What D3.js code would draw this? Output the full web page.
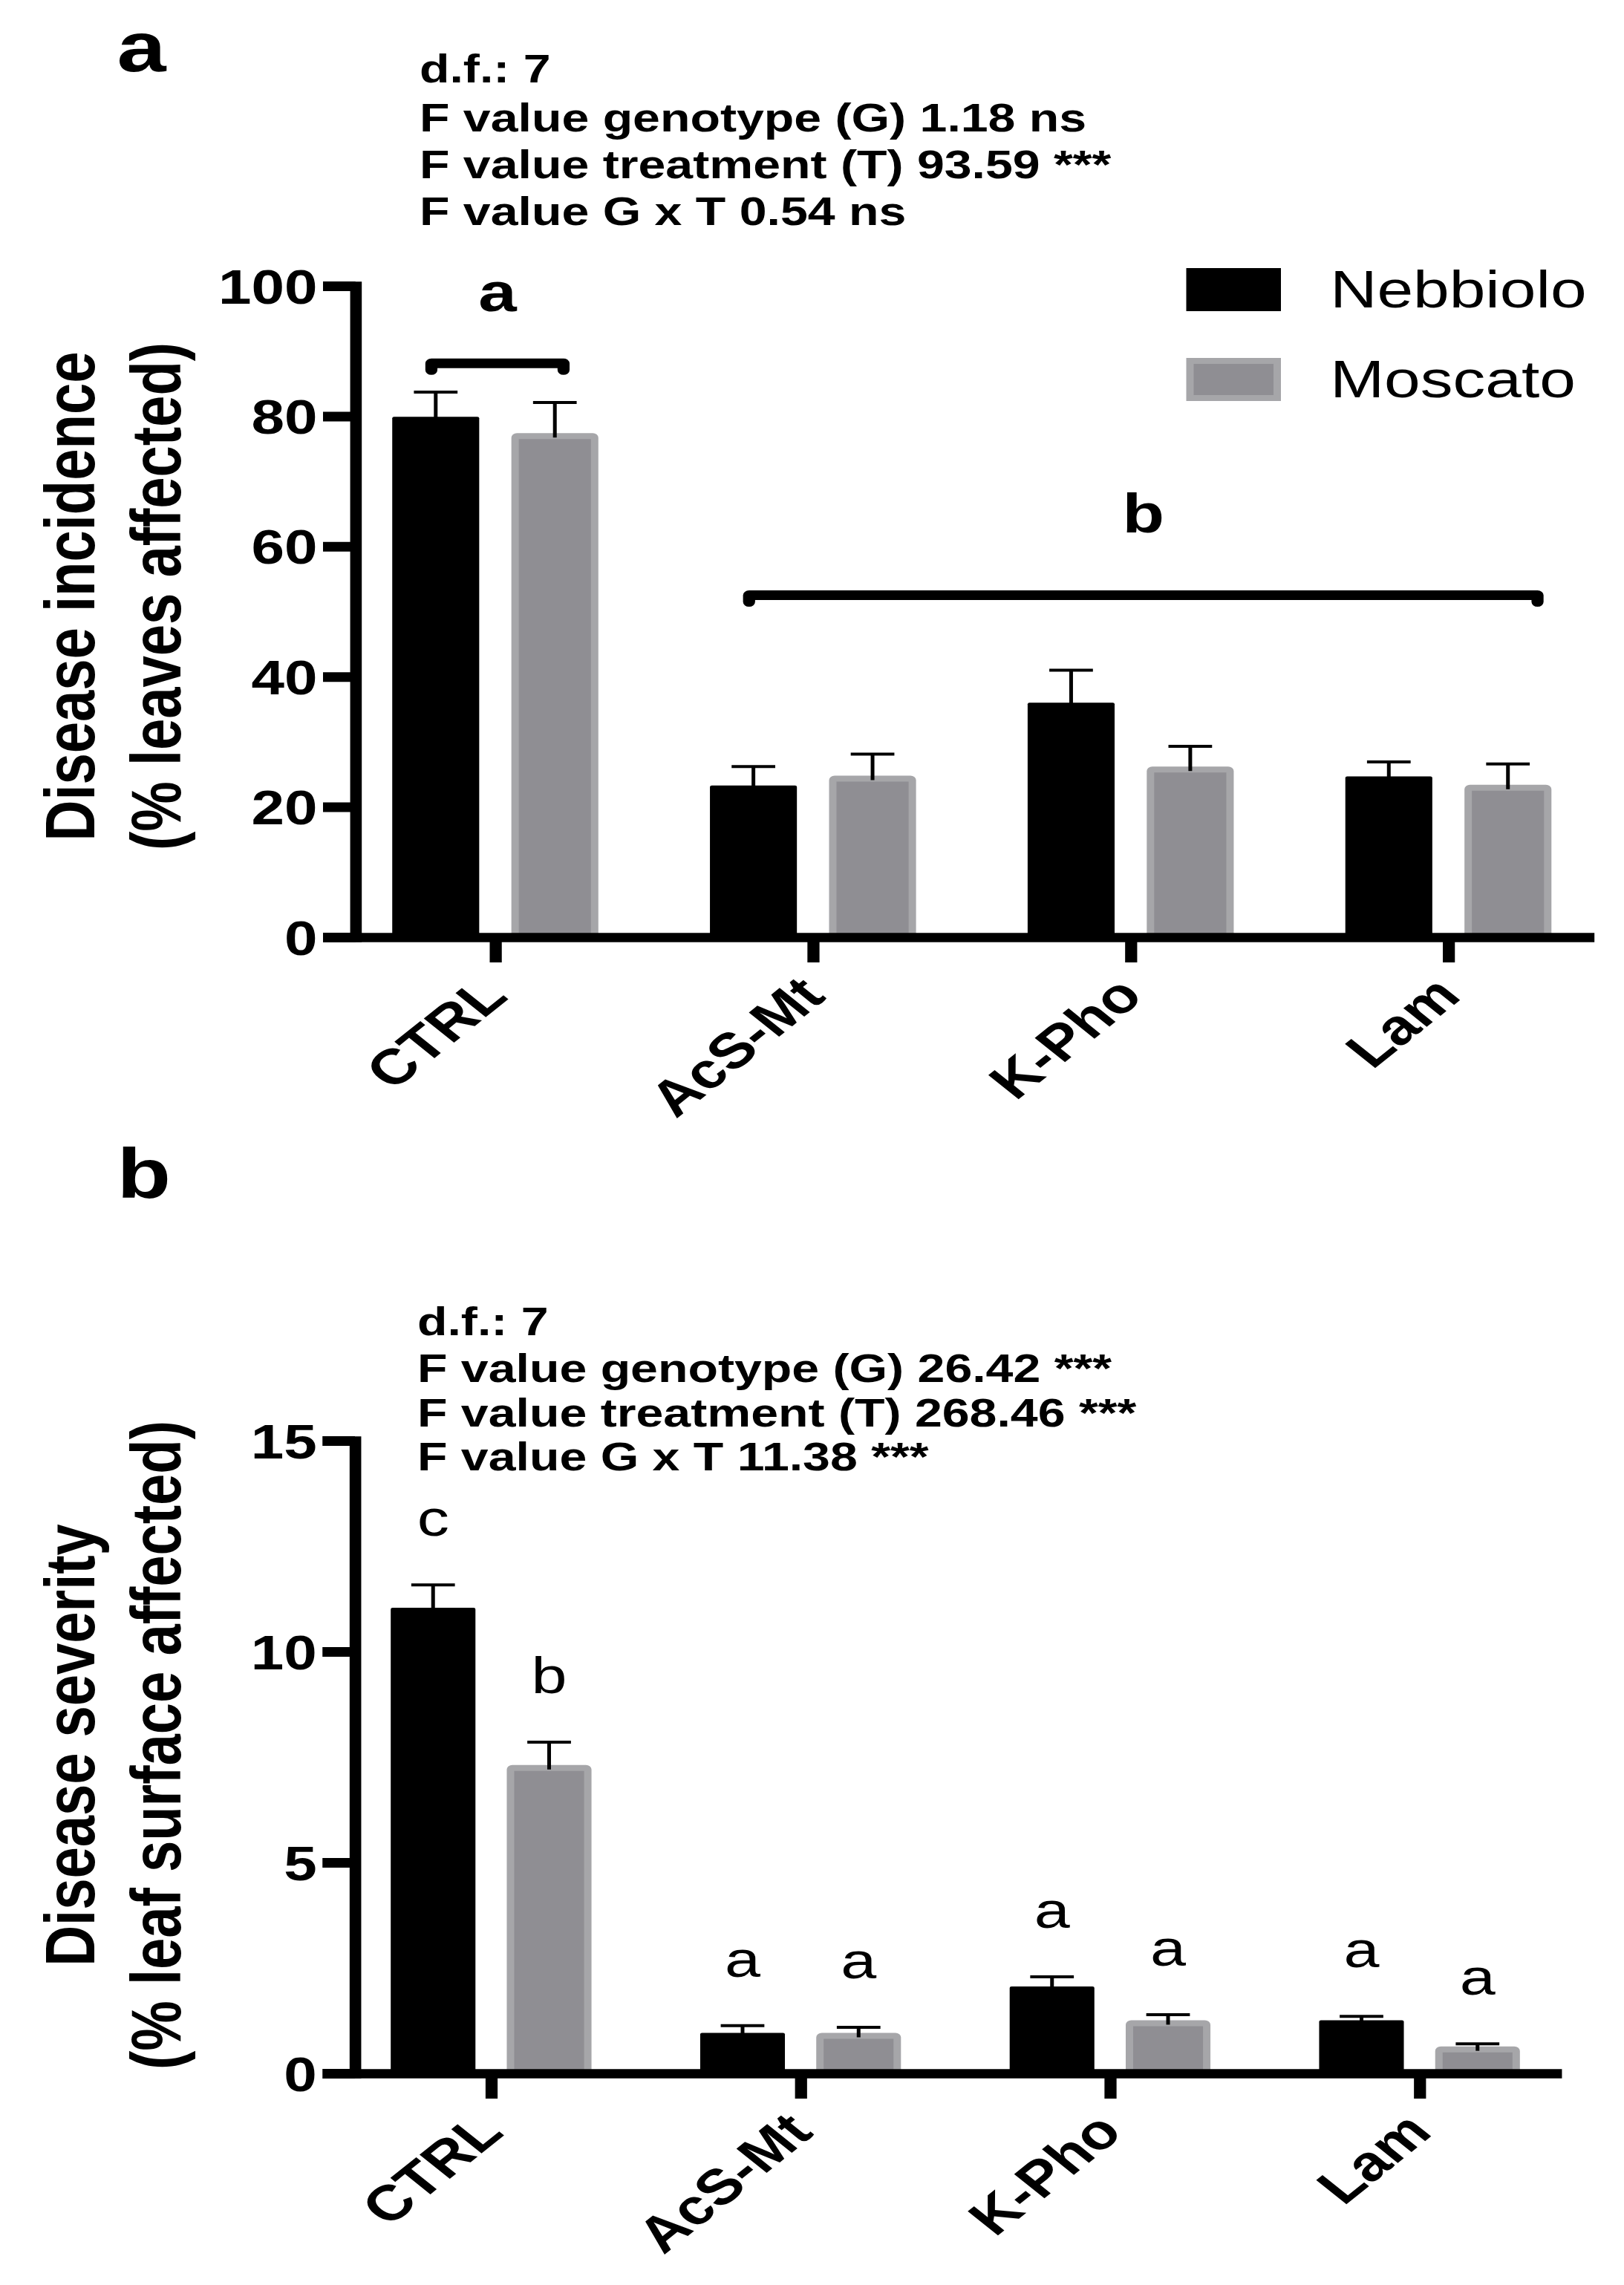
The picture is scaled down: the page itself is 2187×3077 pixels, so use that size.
<!DOCTYPE html>
<html>
<head>
<meta charset="utf-8">
<script src="https://cdn.jsdelivr.net/npm/d3@7"></script>
<style>
  html, body { margin: 0; padding: 0; background: #ffffff; }
  svg { display: block; }
</style>
</head>
<body>
<div id="chart"></div>
<script>
// ---------------- data ----------------
const categories = ["CTRL", "AcS-Mt", "K-Pho", "Lam"];
const series = ["Nebbiolo", "Moscato"];

// Panel a: disease incidence (% leaves affected), mean and SE
const incidenceNebbiolo   = [79.9, 23.3, 36.0, 24.7];
const incidenceNebbioloSE = [3.8, 2.9, 5.0, 2.2];
const incidenceMoscato    = [77.4, 24.8, 26.2, 23.4];
const incidenceMoscatoSE  = [4.7, 3.3, 3.1, 3.2];
const incidenceTicks = [0, 20, 40, 60, 80, 100];
const incidenceStats = [
  "d.f.: 7",
  "F value genotype (G) 1.18 ns",
  "F value treatment (T) 93.59 ***",
  "F value G x T 0.54 ns"
];
// grouping letters for panel a (bracket level in data units)
const incidenceGroups = [
  { label: "a", from: ["CTRL", "Nebbiolo"], to: ["CTRL", "Moscato"], level: 88.1 },
  { label: "b", from: ["AcS-Mt", "Nebbiolo"], to: ["Lam", "Moscato"], level: 52.5 }
];

// Panel b: disease severity (% leaf surface affected), mean and SE
const severityNebbiolo   = [11.04, 0.96, 2.06, 1.26];
const severityNebbioloSE = [0.54, 0.17, 0.23, 0.09];
const severityMoscato    = [7.31, 0.96, 1.26, 0.64];
const severityMoscatoSE  = [0.54, 0.13, 0.13, 0.06];
const severityLettersNebbiolo = ["c", "a", "a", "a"];
const severityLettersMoscato  = ["b", "a", "a", "a"];
const severityTicks = [0, 5, 10, 15];
const severityStats = [
  "d.f.: 7",
  "F value genotype (G) 26.42 ***",
  "F value treatment (T) 268.46 ***",
  "F value G x T 11.38 ***"
];

// ---------------- layout / style ----------------
const FULL_W = 2187, FULL_H = 3077;
const STRETCH = 1.25;               // the figure is horizontally stretched
const W = FULL_W / STRETCH;
const FONT = "'Liberation Sans', Arial, Helvetica, sans-serif";
const COLORS = { Nebbiolo: "#000000", Moscato: "#8f8e93" };
const MOSCATO_BORDER = "#a6a6a9";

const svg = d3.select("#chart").append("svg")
  .attr("width", FULL_W).attr("height", FULL_H)
  .attr("viewBox", `0 0 ${W} ${FULL_H}`)
  .attr("preserveAspectRatio", "none");

svg.append("rect").attr("width", W).attr("height", FULL_H).attr("fill", "#fff");

function drawPanel(cfg) {
  const g = svg.append("g");
  const x = d3.scalePoint().domain(categories).range([cfg.axisX, cfg.xEnd]).padding(0.44);
  const step = x.step();
  const xs = d3.scaleBand().domain(series)
    .range([-0.375 * step, 0.375 * step]).paddingInner(0.27).paddingOuter(0.135);
  const bw = xs.bandwidth();
  const y = d3.scaleLinear().domain([0, cfg.ticks[cfg.ticks.length - 1]]).range([cfg.y0, cfg.yTop]);

  const rows = [];
  categories.forEach((c, i) => {
    series.forEach(s => {
      rows.push({
        cat: c, ser: s,
        v: cfg.values[s][i], se: cfg.errors[s][i],
        letter: cfg.letters ? cfg.letters[s][i] : null
      });
    });
  });
  const cx = d => x(d.cat) + xs(d.ser) + bw / 2;

  // bars
  const sw = 8;
  g.selectAll("rect.bar").data(rows).join("rect")
    .attr("class", "bar")
    .attr("x", d => d.ser === "Moscato" ? cx(d) - bw / 2 + sw / 2 : cx(d) - bw / 2)
    .attr("y", d => d.ser === "Moscato" ? y(d.v) + sw / 2 : y(d.v))
    .attr("width", d => d.ser === "Moscato" ? bw - sw : bw)
    .attr("height", d => d.ser === "Moscato" ? Math.max(0, cfg.y0 - y(d.v) - sw / 2) : cfg.y0 - y(d.v))
    .attr("rx", 2)
    .attr("fill", d => COLORS[d.ser])
    .attr("stroke", d => d.ser === "Moscato" ? MOSCATO_BORDER : "none")
    .attr("stroke-width", sw);

  // error bars (upper only)
  const capW = 47;
  const eb = g.selectAll("g.err").data(rows).join("g").attr("class", "err")
    .attr("stroke", "#000").attr("stroke-width", 4);
  eb.append("line")
    .attr("x1", cx).attr("x2", cx)
    .attr("y1", d => y(d.v) + 6).attr("y2", d => y(d.v + d.se));
  eb.append("line")
    .attr("x1", d => cx(d) - capW / 2).attr("x2", d => cx(d) + capW / 2)
    .attr("y1", d => y(d.v + d.se)).attr("y2", d => y(d.v + d.se));

  // letters above individual bars
  if (cfg.letters) {
    g.selectAll("text.letter").data(rows).join("text")
      .attr("class", "letter")
      .attr("x", cx).attr("y", d => y(d.v + d.se) - 66)
      .attr("text-anchor", "middle")
      .attr("font-family", FONT).attr("font-size", 69)
      .text(d => d.letter);
  }

  // grouping brackets
  if (cfg.groups) {
    cfg.groups.forEach((gr, gi) => {
      const xa = x(gr.from[0]) + xs(gr.from[1]) + bw / 2 - 0.05 * bw;
      const xb = x(gr.to[0]) + xs(gr.to[1]) + bw / 2 + (gi === 0 ? 0.1 : 0.34) * bw;
      const yy = y(gr.level);
      g.append("path")
        .attr("d", `M${xa},${yy + 9}V${yy}H${xb}V${yy + 9}`)
        .attr("fill", "none").attr("stroke", "#000").attr("stroke-width", 13)
        .attr("stroke-linejoin", "round").attr("stroke-linecap", "round");
      g.append("text")
        .attr("x", (xa + xb) / 2).attr("y", yy - (gi === 0 ? 70 : 85))
        .attr("text-anchor", "middle")
        .attr("font-family", FONT).attr("font-weight", "bold").attr("font-size", 74)
        .text(gr.label);
    });
  }

  // y axis
  const yAxis = d3.axisLeft(y).tickValues(cfg.ticks).tickSize(35).tickPadding(6).tickSizeOuter(0)
    .tickFormat(d3.format("d"));
  g.append("g").attr("transform", `translate(${cfg.axisX},0)`).call(yAxis)
    .attr("font-family", FONT).attr("font-size", 64).attr("font-weight", "bold")
    .call(a => {
      a.select(".domain").attr("stroke", "#000").attr("stroke-width", 12.5).attr("stroke-linecap", "square");
      a.selectAll(".tick line").attr("stroke", "#000").attr("stroke-width", 13);
      a.selectAll(".tick text").attr("fill", "#000").attr("dy", "0.36em");
    });

  // x axis
  const xAxis = d3.axisBottom(x).tickSize(34).tickSizeOuter(0);
  g.append("g").attr("transform", `translate(0,${cfg.y0})`).call(xAxis)
    .attr("font-family", FONT).attr("font-size", 67).attr("font-weight", "bold")
    .call(a => {
      a.select(".domain").attr("stroke", "#000").attr("stroke-width", 12.5).attr("stroke-linecap", "square");
      a.selectAll(".tick line").attr("stroke", "#000").attr("stroke-width", 13);
      a.selectAll(".tick text").attr("fill", "#000")
        .attr("y", 0).attr("dy", 0)
        .attr("text-anchor", "end")
        .attr("transform", "translate(15,82) rotate(-45)");
    });

  // y title
  cfg.title.forEach((t, i) => {
    g.append("text")
      .attr("transform", `translate(${i === 0 ? 101.6 : 194.4},${cfg.titleY}) rotate(-90)`)
      .attr("text-anchor", "middle")
      .attr("font-family", FONT).attr("font-weight", "bold").attr("font-size", 76)
      .text(t);
  });

  // stats
  cfg.stats.forEach((t, i) => {
    g.append("text")
      .attr("x", cfg.statsX).attr("y", cfg.statsY[i])
      .attr("font-family", FONT).attr("font-weight", "bold").attr("font-size", 53)
      .text(t);
  });

  // panel label
  g.append("text")
    .attr("x", 126).attr("y", cfg.panelY)
    .attr("font-family", FONT).attr("font-weight", "bold").attr("font-size", 95)
    .text(cfg.panel);

  return g;
}

drawPanel({
  panel: "a", panelY: 96,
  axisX: 383, xEnd: 1711, y0: 1262, yTop: 385,
  ticks: incidenceTicks,
  values: { Nebbiolo: incidenceNebbiolo, Moscato: incidenceMoscato },
  errors: { Nebbiolo: incidenceNebbioloSE, Moscato: incidenceMoscatoSE },
  groups: incidenceGroups,
  title: ["Disease incidence", "(% leaves affected)"], titleY: 803,
  stats: incidenceStats, statsX: 452, statsY: [111, 177, 240, 303]
});

drawPanel({
  panel: "b", panelY: 1613,
  axisX: 382.4, xEnd: 1676, y0: 2792, yTop: 1940,
  ticks: severityTicks,
  values: { Nebbiolo: severityNebbiolo, Moscato: severityMoscato },
  errors: { Nebbiolo: severityNebbioloSE, Moscato: severityMoscatoSE },
  letters: { Nebbiolo: severityLettersNebbiolo, Moscato: severityLettersMoscato },
  title: ["Disease severity", "(% leaf surface affected)"], titleY: 2350,
  stats: severityStats, statsX: 449.6, statsY: [1798, 1861, 1921, 1980]
});

// legend (panel a)
const legend = svg.append("g");
series.forEach((s, i) => {
  const ly = [361, 482][i];
  const isM = s === "Moscato";
  legend.append("rect")
    .attr("x", isM ? 1278 + 4 : 1278).attr("y", isM ? ly + 4 : ly)
    .attr("width", isM ? 102 - 8 : 102).attr("height", isM ? 58 - 8 : 58)
    .attr("fill", COLORS[s])
    .attr("stroke", isM ? MOSCATO_BORDER : "none").attr("stroke-width", 8);
  legend.append("text")
    .attr("x", 1433).attr("y", [414, 535][i])
    .attr("font-family", FONT).attr("font-size", 70)
    .text(s);
});
</script>
</body>
</html>
